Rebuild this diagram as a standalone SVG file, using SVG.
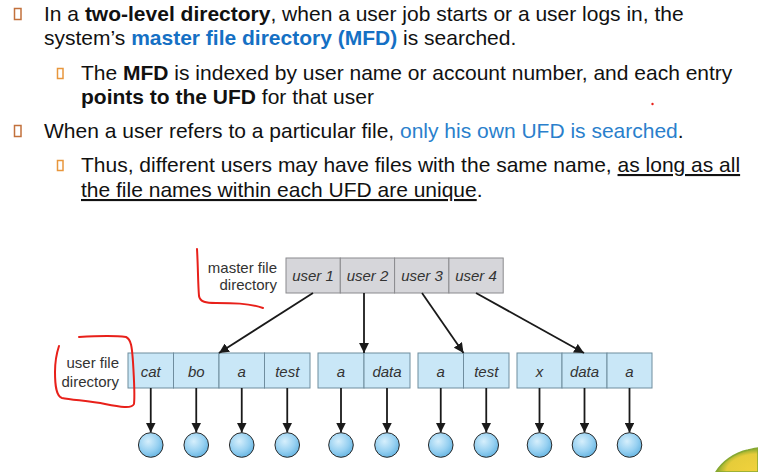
<svg xmlns="http://www.w3.org/2000/svg" width="758" height="472" viewBox="0 0 758 472">
<defs>
<style>
.t{font-family:"Liberation Sans",Arial,sans-serif;font-size:21px;fill:#111}
.b{font-weight:bold}
.blue{fill:#1570c4}
.lblue{fill:#2a7fcc}
.u{text-decoration:underline}
.b1{fill:none;stroke:#c2713c;stroke-width:1.5}
.b2{fill:none;stroke:#e8963c;stroke-width:1.5}
.lab{font-family:"Liberation Sans",Arial,sans-serif;font-size:15px;fill:#333}
.cell{font-family:"Liberation Sans",Arial,sans-serif;font-size:15px;font-style:italic;fill:#333;text-anchor:middle}
.mfd{fill:#d6d6da;stroke:#8a8a8e;stroke-width:1}
.ufd{fill:#c9e7f7;stroke:#6f8d9e;stroke-width:1}
.file{fill:url(#ball);stroke:#2a2a2a;stroke-width:1}
.con{stroke:#1a1a1a;stroke-width:1.8;fill:none;marker-end:url(#ah)}
.red{fill:none;stroke:#e8201a;stroke-width:2;stroke-linecap:round;stroke-linejoin:round}
</style>
<marker id="ah" viewBox="0 0 10 10" refX="10" refY="5" markerWidth="5.5" markerHeight="5.5" orient="auto" markerUnits="strokeWidth">
<path d="M0,0 L10,5 L0,10 z" fill="#1a1a1a"/>
</marker>
<radialGradient id="ball" cx="0.4" cy="0.35" r="0.7">
<stop offset="0" stop-color="#d6effc"/>
<stop offset="0.6" stop-color="#96d0f1"/>
<stop offset="1" stop-color="#62b2e0"/>
</radialGradient>
<radialGradient id="flower" cx="1" cy="1" r="1">
<stop offset="0" stop-color="#f2d23c"/>
<stop offset="0.75" stop-color="#e6cc3a"/>
<stop offset="1" stop-color="#80a62c"/>
</radialGradient>
</defs>
<rect width="758" height="472" fill="#ffffff"/>

<g id="bullets">
<rect class="b1" x="14.5" y="8.5" width="6.5" height="11"/>
<rect class="b2" x="57.5" y="68.5" width="5.5" height="10"/>
<rect class="b1" x="14.5" y="125.5" width="6.5" height="11"/>
<rect class="b2" x="57.5" y="160.5" width="5.5" height="10"/>
</g>

<g id="text">
<text class="t" x="44" y="21">In a <tspan class="b">two-level directory</tspan>, when a user job starts or a user logs in, the</text>
<text class="t" x="44" y="45">system’s <tspan class="b blue">master file directory (MFD)</tspan> is searched.</text>
<text class="t" x="81" y="80">The <tspan class="b">MFD</tspan> is indexed by user name or account number, and each entry</text>
<text class="t" x="81" y="104"><tspan class="b">points to the UFD</tspan> for that user</text>
<text class="t" x="44" y="138">When a user refers to a particular file, <tspan class="lblue">only his own UFD is searched</tspan>.</text>
<text class="t" x="81" y="172">Thus, different users may have files with the same name, <tspan class="u">as long as all</tspan></text>
<text class="t" x="81" y="197"><tspan class="u">the file names within each UFD are unique</tspan>.</text>
</g>

<g id="labels">
<text class="lab" text-anchor="end" x="277" y="273">master file</text>
<text class="lab" text-anchor="end" x="277" y="290">directory</text>
<text class="lab" text-anchor="end" x="119" y="368">user file</text>
<text class="lab" text-anchor="end" x="119" y="387">directory</text>
</g>

<g id="mfd">
<rect class="mfd" x="286" y="258" width="54.3" height="35"/>
<rect class="mfd" x="340.3" y="258" width="54.3" height="35"/>
<rect class="mfd" x="394.6" y="258" width="54.3" height="35"/>
<rect class="mfd" x="448.9" y="258" width="54.3" height="35"/>
<text class="cell" x="313" y="281">user 1</text>
<text class="cell" x="367.5" y="281">user 2</text>
<text class="cell" x="422" y="281">user 3</text>
<text class="cell" x="476" y="281">user 4</text>
</g>

<g id="ufd1">
<rect class="ufd" x="128" y="353" width="45.5" height="35"/>
<rect class="ufd" x="173.5" y="353" width="45.5" height="35"/>
<rect class="ufd" x="219" y="353" width="45.5" height="35"/>
<rect class="ufd" x="264.5" y="353" width="45.5" height="35"/>
<text class="cell" x="150.75" y="377">cat</text>
<text class="cell" x="196.25" y="377">bo</text>
<text class="cell" x="241.75" y="377">a</text>
<text class="cell" x="287.25" y="377">test</text>
</g>

<g id="ufd2">
<rect class="ufd" x="318" y="353" width="46" height="35"/>
<rect class="ufd" x="364" y="353" width="46" height="35"/>
<text class="cell" x="341" y="377">a</text>
<text class="cell" x="387" y="377">data</text>
</g>

<g id="ufd3">
<rect class="ufd" x="418" y="353" width="45.5" height="35"/>
<rect class="ufd" x="463.5" y="353" width="45.5" height="35"/>
<text class="cell" x="440.75" y="377">a</text>
<text class="cell" x="486.25" y="377">test</text>
</g>

<g id="ufd4">
<rect class="ufd" x="517" y="353" width="45" height="35"/>
<rect class="ufd" x="562" y="353" width="45" height="35"/>
<rect class="ufd" x="607" y="353" width="45" height="35"/>
<text class="cell" x="539.5" y="377">x</text>
<text class="cell" x="584.5" y="377">data</text>
<text class="cell" x="629.5" y="377">a</text>
</g>

<g id="files">
<circle class="file" cx="150.75" cy="445" r="12.3"/>
<circle class="file" cx="196.25" cy="445" r="12.3"/>
<circle class="file" cx="241.75" cy="445" r="12.3"/>
<circle class="file" cx="287.25" cy="445" r="12.3"/>
<circle class="file" cx="341" cy="445" r="12.3"/>
<circle class="file" cx="387" cy="445" r="12.3"/>
<circle class="file" cx="440.75" cy="445" r="12.3"/>
<circle class="file" cx="486.25" cy="445" r="12.3"/>
<circle class="file" cx="539.5" cy="445" r="12.3"/>
<circle class="file" cx="584.5" cy="445" r="12.3"/>
<circle class="file" cx="629.5" cy="445" r="12.3"/>
</g>

<g id="connectors">
<line class="con" x1="313" y1="293" x2="219" y2="353"/>
<line class="con" x1="364" y1="293" x2="364" y2="353"/>
<line class="con" x1="422" y1="293" x2="463.5" y2="353"/>
<line class="con" x1="476" y1="293" x2="584" y2="353"/>
<line class="con" x1="150.75" y1="388" x2="150.75" y2="432.5"/>
<line class="con" x1="196.25" y1="388" x2="196.25" y2="432.5"/>
<line class="con" x1="241.75" y1="388" x2="241.75" y2="432.5"/>
<line class="con" x1="287.25" y1="388" x2="287.25" y2="432.5"/>
<line class="con" x1="341" y1="388" x2="341" y2="432.5"/>
<line class="con" x1="387" y1="388" x2="387" y2="432.5"/>
<line class="con" x1="440.75" y1="388" x2="440.75" y2="432.5"/>
<line class="con" x1="486.25" y1="388" x2="486.25" y2="432.5"/>
<line class="con" x1="539.5" y1="388" x2="539.5" y2="432.5"/>
<line class="con" x1="584.5" y1="388" x2="584.5" y2="432.5"/>
<line class="con" x1="629.5" y1="388" x2="629.5" y2="432.5"/>
</g>

<g id="annotations">
<path class="red" d="M197,249 C198,265 198,285 199,296 C200,302 206,303 216,303 C232,303 248,303 263,308"/>
<path class="red" d="M79,337 C95,336 112,335 126,337 C132,340 132,350 133,362 C134,378 135,395 134,404 C132,409 120,407 105,404 C90,401 72,400 62,398 C56,396 55,385 55,372 C55,362 57,352 59,346"/>
<circle cx="652.5" cy="104" r="1.2" fill="#e8201a"/>
</g>

<g id="corner">
<path d="M716,472 C722,462 734,453 748,450 C752,449 756,448 758,448 L758,472 Z" fill="url(#flower)" stroke="#86a832" stroke-width="1.5"/>
</g>
</svg>
